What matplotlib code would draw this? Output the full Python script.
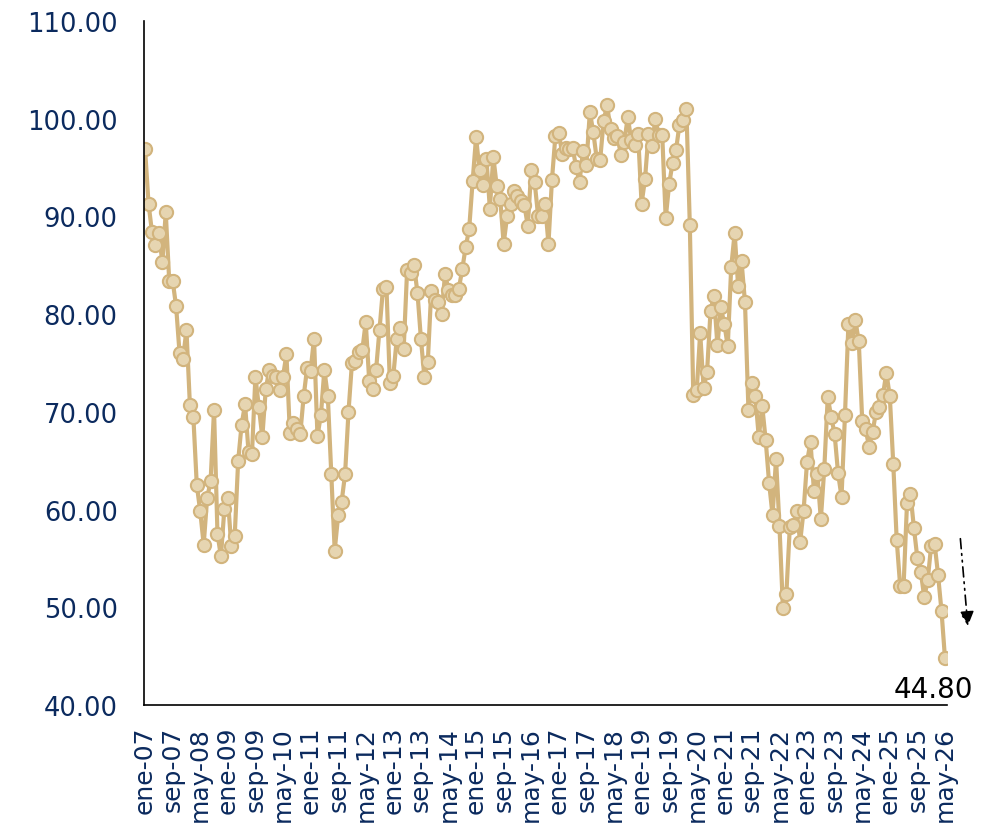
import numpy as np
import matplotlib
matplotlib.use("Agg")
import matplotlib.pyplot as plt

# monthly index values, ene-07 .. may-26
v2007 = [96.9, 91.3, 88.4, 87.1, 88.3, 85.3, 90.4, 83.4, 83.4, 80.8, 76.0, 75.4]
v2008 = [78.4, 70.7, 69.5, 62.5, 59.8, 56.4, 61.2, 62.9, 70.2, 57.5, 55.2, 60.1]
v2009 = [61.2, 56.3, 57.3, 65.0, 68.7, 70.8, 65.9, 65.7, 73.6, 70.5, 67.4, 72.3]
v2010 = [74.3, 73.7, 73.6, 72.2, 73.6, 75.9, 67.8, 68.9, 68.2, 67.7, 71.6, 74.5]
v2011 = [74.2, 77.5, 67.5, 69.7, 74.3, 71.6, 63.6, 55.8, 59.4, 60.8, 63.6, 70.0]
v2012 = [75.0, 75.2, 76.1, 76.3, 79.2, 73.2, 72.3, 74.3, 78.4, 82.6, 82.8, 73.0]
v2013 = [73.7, 77.5, 78.6, 76.4, 84.5, 84.2, 85.0, 82.2, 77.5, 73.6, 75.1, 82.4]
v2014 = [81.4, 81.2, 80.0, 84.1, 82.5, 82.0, 82.0, 82.6, 84.6, 86.9, 88.7, 93.6]
v2015 = [98.1, 94.7, 93.2, 95.9, 90.8, 96.1, 93.1, 91.8, 87.2, 90.0, 91.3, 92.6]
v2016 = [92.1, 91.6, 91.2, 89.0, 94.7, 93.5, 90.0, 90.0, 91.3, 87.2, 93.7, 98.2]
v2017 = [98.5, 96.4, 97.0, 96.9, 97.0, 95.1, 93.5, 96.7, 95.3, 100.7, 98.6, 95.9]
v2018 = [95.8, 99.8, 101.4, 98.9, 98.0, 98.2, 96.3, 97.6, 100.2, 97.8, 97.3, 98.4]
v2019 = [91.3, 93.8, 98.4, 97.2, 100.0, 98.3, 98.3, 89.8, 93.3, 95.5, 96.8, 99.4]
v2020 = [99.9, 101.0, 89.1, 71.7, 72.2, 78.1, 72.4, 74.1, 80.3, 81.9, 76.8, 80.7]
v2021 = [79.0, 76.7, 84.8, 88.3, 82.9, 85.4, 81.2, 70.2, 72.9, 71.6, 67.4, 70.6]
v2022 = [67.1, 62.7, 59.4, 65.2, 58.3, 49.9, 51.4, 58.2, 58.4, 59.8, 56.7, 59.9]
v2023 = [64.9, 66.9, 61.9, 63.6, 59.0, 64.2, 71.5, 69.5, 67.7, 63.7, 61.3, 69.7]
v2024 = [79.0, 77.0, 79.4, 77.2, 69.1, 68.2, 66.4, 67.9, 70.0, 70.5, 71.7, 74.0]
v2025 = [71.6, 64.7, 56.9, 52.2, 52.2, 60.7, 61.6, 58.1, 55.0, 53.6, 51.0, 52.8]
v2026 = [56.3, 56.5, 53.3, 49.6, 44.8]

values = (v2007 + v2008 + v2009 + v2010 + v2011 + v2012 + v2013 + v2014 + v2015
          + v2016 + v2017 + v2018 + v2019 + v2020 + v2021 + v2022 + v2023
          + v2024 + v2025 + v2026)

months = ['ene', 'feb', 'mar', 'abr', 'may', 'jun', 'jul', 'ago', 'sep', 'oct', 'nov', 'dic']
labels = ['%s-%02d' % (months[i % 12], 7 + i // 12) for i in range(len(values))]
last_label = '44.80'

navy = '#0B2A5E'
tan = '#D2B47D'

x = np.arange(len(values))

fig = plt.figure(figsize=(9.9, 8.29), dpi=100)
ax = fig.add_axes([0.1455, 0.1484, 0.8111, 0.8251])

ax.plot(x, values, color=tan, lw=3, marker='o', ms=9.5,
        mfc='#E6D5B1', mec=tan, mew=1.5)

ax.set_ylim(40, 110)
ax.set_xlim(-0.3, len(values) - 0.4)
ax.set_yticks(np.arange(40, 111, 10))
ax.set_yticklabels(['%.2f' % t for t in np.arange(40, 111, 10)])
ax.set_xticks(x[::8])
ax.set_xticklabels(labels[::8], rotation=90)

ax.tick_params(axis='y', length=0, pad=19, labelsize=18.5, labelcolor=navy)
ax.tick_params(axis='x', length=0, pad=15, labelsize=18, labelcolor=navy)

for s in ['top', 'right']:
    ax.spines[s].set_visible(False)
for s in ['left', 'bottom']:
    ax.spines[s].set_color('black')
    ax.spines[s].set_linewidth(1.2)

ax.text(x[-1] - 3.5, 41.6, last_label, fontsize=20, color='black',
        ha='center', va='center', clip_on=False)

ax.annotate('', xy=(238.7, 47.8), xytext=(236.4, 57.3),
            arrowprops=dict(arrowstyle='-|>', linestyle=(0, (6, 3, 1, 3, 1, 3)),
                            color='black', lw=1.2, mutation_scale=22),
            annotation_clip=False)

fig.savefig('out.png', dpi=100)
